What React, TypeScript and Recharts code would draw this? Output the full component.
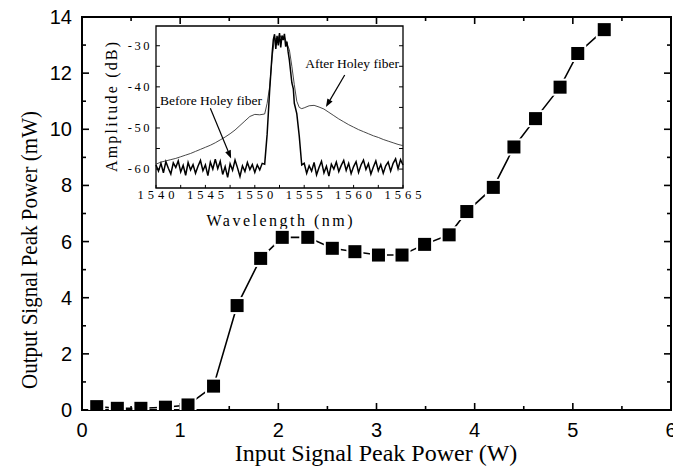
import React from 'react';
import { LineChart, Line, XAxis, YAxis, ReferenceLine, ReferenceDot, ReferenceArea } from 'recharts';

// main plot: output vs input peak power
const inputPower = [0.15, 0.36, 0.6, 0.85, 1.08, 1.34, 1.58, 1.82, 2.04, 2.3, 2.55, 2.78, 3.02, 3.26, 3.49, 3.74, 3.92, 4.19, 4.4, 4.62, 4.87, 5.05, 5.32];
const outputPower = [0.12, 0.06, 0.06, 0.1, 0.18, 0.85, 3.72, 5.4, 6.15, 6.15, 5.76, 5.64, 5.52, 5.52, 5.9, 6.24, 7.07, 7.93, 9.37, 10.38, 11.5, 12.7, 13.55];
const xTicks = [0, 0.5, 1, 1.5, 2, 2.5, 3, 3.5, 4, 4.5, 5, 5.5, 6];
const yTicks = [0, 1, 2, 3, 4, 5, 6, 7, 8, 9, 10, 11, 12, 13, 14];
const X_RANGE = [0, 6];
const Y_RANGE = [0, 14];

// inset: spectra before / after holey fiber
const beforeWl = [
  1540, 1540.25, 1540.5, 1540.75, 1541, 1541.25, 1541.5, 1541.75, 1542, 1542.25, 1542.5, 1542.75,
  1543, 1543.25, 1543.5, 1543.75, 1544, 1544.25, 1544.5, 1544.75, 1545, 1545.25, 1545.5, 1545.75,
  1546, 1546.25, 1546.5, 1546.75, 1547, 1547.25, 1547.5, 1547.75, 1548, 1548.25, 1548.5, 1548.75,
  1549, 1549.25, 1549.5, 1549.75, 1550, 1550.25, 1550.5, 1550.75, 1551, 1551.25, 1551.5, 1551.75,
  1551.875, 1552, 1552.125, 1552.25, 1552.375, 1552.5, 1552.625, 1552.75, 1552.875, 1553, 1553.125,
  1553.25, 1553.375, 1553.5, 1553.75, 1553.9, 1554, 1554.25, 1554.5, 1554.75,
  1555, 1555.25, 1555.5, 1555.75, 1556, 1556.25, 1556.5, 1556.75, 1557, 1557.25, 1557.5, 1557.75,
  1558, 1558.25, 1558.5, 1558.75, 1559, 1559.25, 1559.5, 1559.75, 1560, 1560.25, 1560.5, 1560.75,
  1561, 1561.25, 1561.5, 1561.75, 1562, 1562.25, 1562.5, 1562.75, 1563, 1563.25, 1563.5, 1563.75,
  1564, 1564.25, 1564.5, 1564.75, 1565,
];
const beforeDb = [
  -59.0, -60.5, -58.6, -60.9, -58.2, -59.8, -61.2, -58.5, -59.6, -58.0, -60.7, -59.1,
  -61.5, -58.4, -60.2, -58.9, -61.0, -59.3, -57.9, -60.4, -59.0, -61.6, -58.3, -60.0,
  -57.6, -59.9, -58.1, -61.3, -59.4, -62.0, -58.7, -60.3, -57.8, -59.7, -61.8, -59.2,
  -60.6, -58.4, -60.1, -58.9, -60.8, -59.0, -60.2, -58.6, -58.8, -51.5, -41.0, -32.0,
  -28.5, -27.2, -30.8, -27.6, -29.9, -26.9, -30.4, -27.5, -28.6, -27.1, -30.2,
  -29.0, -31.5, -33.5, -39.0, -40.5, -44.0, -46.5, -52.0, -59.0,
  -58.6, -61.0, -59.2, -60.5, -58.4, -61.4, -59.6, -58.1, -60.9, -59.3, -61.7, -58.8,
  -60.0, -58.3, -60.6, -59.1, -57.9, -60.3, -58.6, -61.1, -59.4, -58.2, -60.8, -59.0,
  -57.8, -60.1, -58.7, -61.2, -59.5, -58.0, -60.4, -58.9, -61.0, -59.2, -58.3, -60.5,
  -58.6, -57.5, -59.9, -57.7, -59.0,
];
const afterWl = [
  1540, 1540.5, 1541, 1541.5, 1542, 1542.5, 1543, 1543.5, 1544, 1544.5, 1545, 1545.5, 1546, 1546.5,
  1547, 1547.5, 1548, 1548.5, 1549, 1549.5, 1550, 1550.5, 1551, 1551.25, 1551.5, 1551.75, 1552,
  1552.25, 1552.5, 1552.75, 1553, 1553.25, 1553.5, 1553.75, 1554, 1554.25, 1554.5, 1554.75, 1555,
  1555.5, 1556, 1556.5, 1557, 1557.5, 1558, 1558.5, 1559, 1559.5, 1560, 1560.5, 1561, 1561.5, 1562,
  1562.5, 1563, 1563.5, 1564, 1564.5, 1565,
];
const afterDb = [
  -58.8, -58.3, -58.0, -57.7, -57.4, -57.0, -56.6, -56.2, -55.7, -55.2, -54.7, -54.2, -53.6, -52.9,
  -52.2, -51.4, -50.5, -49.4, -48.3, -47.2, -46.7, -46.8, -46.6, -44.0, -40.0, -33.0, -28.0,
  -29.0, -27.3, -28.5, -27.8, -29.5, -31.0, -35.0, -39.5, -43.5, -45.0, -45.3, -45.1,
  -44.6, -44.5, -44.9, -45.4, -46.2, -47.0, -47.8, -48.5, -49.2, -49.8, -50.4, -50.9, -51.4, -51.9,
  -52.3, -52.8, -53.2, -53.6, -54.0, -54.3,
];
const insetXTicks = [1540, 1542.5, 1545, 1547.5, 1550, 1552.5, 1555, 1557.5, 1560, 1562.5, 1565];
const insetYTicks = [-60, -55, -50, -45, -40, -35, -30];
const WL_RANGE = [1540, 1565];
const DB_RANGE = [-64.6, -25.2];

const mainData = inputPower.map((x, i) => ({ x, y: outputPower[i] }));
const beforeData = beforeWl.map((wl, i) => ({ wl, db: beforeDb[i] }));
const afterData = afterWl.map((wl, i) => ({ wl, db: afterDb[i] }));

const SANS = '"Liberation Sans", Arial, sans-serif';
const SERIF = '"Liberation Serif", "Times New Roman", serif';

// main plot frame (pixels)
const PLOT_LEFT = 82;
const PLOT_TOP = 17;
const PLOT_RIGHT = 671;
const PLOT_BOTTOM = 410;
const pxPerX = (PLOT_RIGHT - PLOT_LEFT) / (X_RANGE[1] - X_RANGE[0]);
const pxPerY = (PLOT_BOTTOM - PLOT_TOP) / (Y_RANGE[1] - Y_RANGE[0]);

// inset frame (pixels) -> hidden axes domains so the inset lands there
const INSET = { left: 156, right: 403, top: 26, bottom: 188 };
const pxPerNm = (INSET.right - INSET.left) / (WL_RANGE[1] - WL_RANGE[0]);
const pxPerDb = (INSET.bottom - INSET.top) / (DB_RANGE[1] - DB_RANGE[0]);
const wlDomain = [WL_RANGE[0] - (INSET.left - PLOT_LEFT) / pxPerNm, WL_RANGE[1] + (PLOT_RIGHT - INSET.right) / pxPerNm];
const dbDomain = [DB_RANGE[0] - (PLOT_BOTTOM - INSET.bottom) / pxPerDb, DB_RANGE[1] + (INSET.top - PLOT_TOP) / pxPerDb];

const BottomTick = (props: any) => {
  const { x, y, payload } = props;
  if (!Number.isInteger(payload.value)) return <g />;
  return (
    <text x={x} y={y + 27} textAnchor="middle" fontFamily={SANS} fontSize={20} fill="#000">
      {payload.value}
    </text>
  );
};

const LeftTick = (props: any) => {
  const { x, y, payload } = props;
  if (payload.value % 2 !== 0) return <g />;
  return (
    <text x={x - 10} y={y + 7} textAnchor="end" fontFamily={SANS} fontSize={20} fill="#000">
      {payload.value}
    </text>
  );
};

const SquareDot = (props: any) => {
  const { cx, cy, index } = props;
  return (
    <g key={`sq-${index}`}>
      <rect x={cx - 8.5} y={cy - 8.5} width={17} height={17} fill="#fff" />
      <rect x={cx - 6.5} y={cy - 6.5} width={13} height={13} fill="#000" />
    </g>
  );
};

const Arrow = (p: any) => {
  const { x1, y1, x2, y2 } = p;
  const ang = Math.atan2(y2 - y1, x2 - x1);
  const L = 8;
  const W = 3;
  const bx = x2 - L * Math.cos(ang);
  const by = y2 - L * Math.sin(ang);
  const pts = `${x2},${y2} ${bx - W * Math.sin(ang)},${by + W * Math.cos(ang)} ${bx + W * Math.sin(ang)},${by - W * Math.cos(ang)}`;
  return (
    <g>
      <line x1={x1} y1={y1} x2={bx} y2={by} stroke="#000" strokeWidth={1.2} />
      <polygon points={pts} fill="#000" />
    </g>
  );
};

const TickSeg = (p: any) => <line x1={p.x1} y1={p.y1} x2={p.x2} y2={p.y2} stroke="#000" strokeWidth={1} />;
const FrameTick = (p: any) => <line x1={p.x1} y1={p.y1} x2={p.x2} y2={p.y2} stroke="#000" strokeWidth={1.6} />;

const noteText = (text: string) => (p: any) => (
  <text x={p.cx} y={p.cy} dy="0.35em" fontFamily={SERIF} fontSize={13.5} fill="#000">
    {text}
  </text>
);

const wlLabel = (v: number) => (p: any) => (
  <text x={p.cx + 2} y={p.cy + 11} textAnchor="middle" fontFamily={SERIF} fontSize={12.5} letterSpacing={4} fill="#000">
    {v}
  </text>
);

const dbLabel = (v: number) => (p: any) => (
  <text x={p.cx - 4} y={p.cy + 4} textAnchor="end" fontFamily={SERIF} fontSize={12.5} letterSpacing={2.5} fill="#000">
    {v}
  </text>
);

const wlTitle = (p: any) => (
  <text x={p.cx} y={p.cy + 38} textAnchor="middle" fontFamily={SERIF} fontSize={16} textLength={146} lengthAdjust="spacing" fill="#000">
    Wavelength (nm)
  </text>
);

const dbTitle = (p: any) => (
  <text x={p.cx - 39} y={p.cy} transform={`rotate(-90 ${p.cx - 39} ${p.cy})`} textAnchor="middle" fontFamily={SERIF} fontSize={16} textLength={130} lengthAdjust="spacing" fill="#000">
    Amplitude (dB)
  </text>
);

const IN = { xAxisId: 'wl', yAxisId: 'db', ifOverflow: 'visible' as const };
const FR = { xAxisId: 'fx', yAxisId: 'fy', ifOverflow: 'visible' as const };

const xTickSegs = xTicks.flatMap((v) => {
  const d = (Number.isInteger(v) ? 7 : 4) / pxPerY;
  return [
    <ReferenceLine key={`xb-${v}`} {...FR} segment={[{ x: v, y: Y_RANGE[0] }, { x: v, y: Y_RANGE[0] + d }]} shape={FrameTick} />,
    <ReferenceLine key={`xt-${v}`} {...FR} segment={[{ x: v, y: Y_RANGE[1] }, { x: v, y: Y_RANGE[1] - d }]} shape={FrameTick} />,
  ];
});

const yTickSegs = yTicks.flatMap((v) => {
  const d = (v % 2 === 0 ? 7 : 4) / pxPerX;
  return [
    <ReferenceLine key={`yl-${v}`} {...FR} segment={[{ x: X_RANGE[0], y: v }, { x: X_RANGE[0] + d, y: v }]} shape={FrameTick} />,
    <ReferenceLine key={`yr-${v}`} {...FR} segment={[{ x: X_RANGE[1], y: v }, { x: X_RANGE[1] - d, y: v }]} shape={FrameTick} />,
  ];
});

export default function App() {
  return (
    <div style={{ position: 'absolute', left: 0, top: 0, width: 673, height: 467, background: '#fff' }}>
      <LineChart width={673} height={467} margin={{ top: PLOT_TOP, right: 673 - PLOT_RIGHT, left: 0, bottom: 0 }}>
        <XAxis
          dataKey="x"
          type="number"
          domain={X_RANGE}
          ticks={xTicks}
          interval={0}
          allowDataOverflow
          height={467 - PLOT_BOTTOM}
          tickSize={0}
          tickMargin={0}
          tickLine={false}
          axisLine={{ stroke: '#000', strokeWidth: 2 }}
          tick={<BottomTick />}
          label={() => (
            <text x={376} y={461} textAnchor="middle" fontFamily={SERIF} fontSize={24} fill="#000">
              Input Signal Peak Power (W)
            </text>
          )}
        />
        <YAxis
          type="number"
          domain={Y_RANGE}
          ticks={yTicks}
          interval={0}
          allowDataOverflow
          width={PLOT_LEFT}
          tickSize={0}
          tickMargin={0}
          tickLine={false}
          axisLine={{ stroke: '#000', strokeWidth: 2 }}
          tick={<LeftTick />}
          label={() => (
            <text x={37} y={250} transform="rotate(-90 37 250)" textAnchor="middle" fontFamily={SERIF} fontSize={23} textLength={278} lengthAdjust="spacingAndGlyphs" fill="#000">
              Output Signal Peak Power (mW)
            </text>
          )}
        />
        {/* hidden axes: frame (same scale as main), and inset placement */}
        <XAxis xAxisId="fx" dataKey="x" type="number" domain={X_RANGE} allowDataOverflow hide />
        <YAxis yAxisId="fy" type="number" domain={Y_RANGE} allowDataOverflow hide />
        <XAxis xAxisId="wl" dataKey="wl" type="number" domain={wlDomain} allowDataOverflow hide />
        <YAxis yAxisId="db" type="number" domain={dbDomain} allowDataOverflow hide />

        {/* main frame with inward ticks on all four sides */}
        <ReferenceArea {...FR} x1={X_RANGE[0]} x2={X_RANGE[1]} y1={Y_RANGE[0]} y2={Y_RANGE[1]} fill="none" stroke="#000" strokeWidth={2} />
        {xTickSegs}
        {yTickSegs}

        {/* inset frame, ticks and labels */}
        <ReferenceArea {...IN} x1={WL_RANGE[0]} x2={WL_RANGE[1]} y1={DB_RANGE[0]} y2={DB_RANGE[1]} fill="#fff" fillOpacity={1} stroke="#000" strokeWidth={1.3} />
        {insetXTicks.map((v) => (
          <ReferenceLine key={`ixt-${v}`} {...IN} segment={[{ x: v, y: DB_RANGE[0] }, { x: v, y: DB_RANGE[0] + 0.75 }]} shape={TickSeg} />
        ))}
        {insetYTicks.map((v) => (
          <ReferenceLine key={`iyl-${v}`} {...IN} segment={[{ x: WL_RANGE[0], y: v }, { x: WL_RANGE[0] + 0.4, y: v }]} shape={TickSeg} />
        ))}
        {insetYTicks.map((v) => (
          <ReferenceLine key={`iyr-${v}`} {...IN} segment={[{ x: WL_RANGE[1], y: v }, { x: WL_RANGE[1] - 0.4, y: v }]} shape={TickSeg} />
        ))}
        {insetXTicks.filter((v) => v % 5 === 0).map((v) => (
          <ReferenceDot key={`ixl-${v}`} {...IN} x={v} y={DB_RANGE[0]} r={0} shape={wlLabel(v)} />
        ))}
        {insetYTicks.filter((v) => v % 10 === 0).map((v) => (
          <ReferenceDot key={`iyt-${v}`} {...IN} x={WL_RANGE[0]} y={v} r={0} shape={dbLabel(v)} />
        ))}
        <ReferenceDot {...IN} x={(WL_RANGE[0] + WL_RANGE[1]) / 2} y={DB_RANGE[0]} r={0} shape={wlTitle} />
        <ReferenceDot {...IN} x={WL_RANGE[0]} y={-44.9} r={0} shape={dbTitle} />

        <Line data={afterData} xAxisId="wl" yAxisId="db" dataKey="db" type="linear" stroke="#333" strokeWidth={0.9} dot={false} isAnimationActive={false} />
        <Line data={beforeData} xAxisId="wl" yAxisId="db" dataKey="db" type="linear" stroke="#000" strokeWidth={1.5} dot={false} isAnimationActive={false} />

        <ReferenceLine {...IN} segment={[{ x: 1545.5, y: -45.2 }, { x: 1547.6, y: -57.4 }]} shape={Arrow} />
        <ReferenceLine {...IN} segment={[{ x: 1559.1, y: -37.1 }, { x: 1557.2, y: -44.9 }]} shape={Arrow} />
        <ReferenceDot {...IN} x={1540.4} y={-43.2} r={0} shape={noteText('Before Holey fiber')} />
        <ReferenceDot {...IN} x={1555.1} y={-34.3} r={0} shape={noteText('After Holey fiber')} />

        <Line data={mainData} xAxisId="fx" yAxisId="fy" dataKey="y" stroke="none" dot={false} isAnimationActive={false} />
        <Line data={mainData} dataKey="y" type="linear" stroke="#000" strokeWidth={1.6} dot={SquareDot} isAnimationActive={false} />
      </LineChart>
    </div>
  );
}
